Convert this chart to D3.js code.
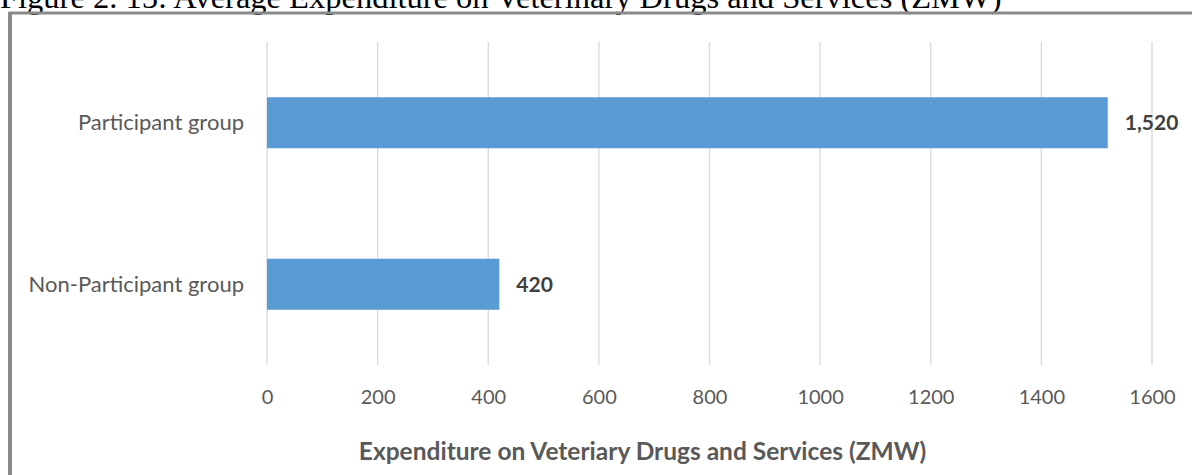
<!DOCTYPE html>
<html>
<head>
<meta charset="utf-8">
<script src="https://cdn.jsdelivr.net/npm/d3@7"></script>
<style>
  html, body { margin: 0; padding: 0; background: #fff; }
  svg { display: block; }
</style>
</head>
<body>
<svg id="chart" width="1192" height="475"></svg>
<script>
// Average spend per household group (ZMW)
const categories = ["Participant group", "Non-Participant group"];
const values = [1520, 420];
const tickValues = [0, 200, 400, 600, 800, 1000, 1200, 1400, 1600];
const titleText = "Figure 2. 15: Average Expenditure on Veterinary Drugs and Services (ZMW)";
const axisTitle = "Expenditure on Veteriary Drugs and Services (ZMW)";

const svg = d3.select("#chart");
const W = 1192, H = 475;
const plot = { left: 267, right: 1152, top: 42, bottom: 365 };
const bodyFont = "Lato, 'Open Sans', sans-serif";

// Figure caption, partly cropped along the top edge
svg.append("text")
  .attr("x", 0).attr("y", 8)
  .attr("font-family", "'Liberation Serif', 'Times New Roman', serif")
  .attr("font-size", 32.5)
  .attr("fill", "#000")
  .text(titleText);

// Chart frame (top and left edges)
svg.append("line")
  .attr("x1", 9).attr("x2", W).attr("y1", 13).attr("y2", 13)
  .attr("stroke", "#8a8a8a").attr("stroke-width", 3);
svg.append("line")
  .attr("x1", 10).attr("x2", 10).attr("y1", 12).attr("y2", H)
  .attr("stroke", "#8a8a8a").attr("stroke-width", 4);

const x = d3.scaleLinear().domain([0, 1600]).range([plot.left, plot.right]);
const y = d3.scaleBand().domain(categories).range([plot.top, plot.bottom])
  .paddingInner(0.684).paddingOuter(0.342);

// Vertical gridlines
svg.append("g")
  .selectAll("line")
  .data(tickValues)
  .join("line")
  .attr("x1", d => x(d)).attr("x2", d => x(d))
  .attr("y1", plot.top).attr("y2", plot.bottom)
  .attr("stroke", "#d9d9d9").attr("stroke-width", 1.3);

// X axis tick labels
const xAxis = d3.axisBottom(x).tickValues(tickValues).tickSize(0).tickPadding(0)
  .tickFormat(d3.format("d"));
const gx = svg.append("g").attr("transform", `translate(0,${plot.bottom + 32})`).call(xAxis);
gx.select(".domain").remove();
gx.selectAll("text")
  .attr("dy", "0.35em")
  .attr("font-family", bodyFont).attr("font-size", 20).attr("fill", "#595959");

// Bars
svg.append("g")
  .selectAll("rect")
  .data(values)
  .join("rect")
  .attr("x", x(0))
  .attr("y", (d, i) => y(categories[i]))
  .attr("width", d => x(d) - x(0))
  .attr("height", y.bandwidth())
  .attr("fill", "#5b9bd5");

// Category labels
svg.append("g")
  .selectAll("text")
  .data(categories)
  .join("text")
  .attr("x", 244)
  .attr("y", d => y(d) + y.bandwidth() / 2)
  .attr("dy", "0.35em")
  .attr("text-anchor", "end")
  .attr("font-family", bodyFont).attr("font-size", 22).attr("fill", "#595959")
  .text(d => d);

// Value labels
svg.append("g")
  .selectAll("text")
  .data(values)
  .join("text")
  .attr("x", d => x(d) + 17)
  .attr("y", (d, i) => y(categories[i]) + y.bandwidth() / 2)
  .attr("dy", "0.35em")
  .attr("font-family", bodyFont).attr("font-size", 21).attr("font-weight", "bold")
  .attr("fill", "#404040")
  .text(d => d3.format(",")(d));

// Axis title
svg.append("text")
  .attr("x", (plot.left + plot.right) / 2 - 67)
  .attr("y", 451)
  .attr("dy", "0.35em")
  .attr("text-anchor", "middle")
  .attr("font-family", bodyFont).attr("font-size", 24.5).attr("font-weight", "bold")
  .attr("fill", "#595959")
  .text(axisTitle);
</script>
</body>
</html>
